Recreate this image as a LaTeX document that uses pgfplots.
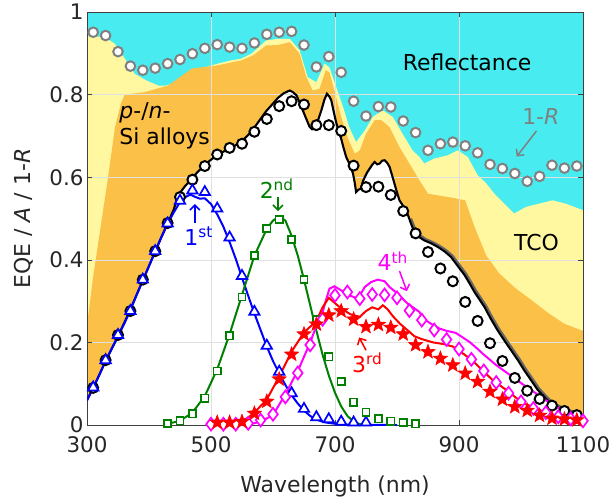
\documentclass[border=0pt]{standalone}
\usepackage{fontspec}
\setmainfont{DejaVu Sans}
\usepackage{pgfplots}
\pgfplotsset{compat=1.18}
\usetikzlibrary{arrows.meta}
\definecolor{cyanc}{RGB}{72,236,240}
\definecolor{yelc}{RGB}{255,248,160}
\definecolor{orac}{RGB}{251,192,72}
\definecolor{grayc}{RGB}{128,128,128}
\definecolor{greenc}{RGB}{0,128,0}
\definecolor{magc}{RGB}{255,0,255}
\definecolor{bluec}{RGB}{0,0,255}
\definecolor{redc}{RGB}{255,0,0}
\pgfdeclareplotmark{fstar}{%
  \pgfpathmoveto{\pgfpointpolar{90}{\pgfplotmarksize}}%
  \pgfpathlineto{\pgfpointpolar{126}{0.42\pgfplotmarksize}}%
  \pgfpathlineto{\pgfpointpolar{162}{\pgfplotmarksize}}%
  \pgfpathlineto{\pgfpointpolar{198}{0.42\pgfplotmarksize}}%
  \pgfpathlineto{\pgfpointpolar{234}{\pgfplotmarksize}}%
  \pgfpathlineto{\pgfpointpolar{270}{0.42\pgfplotmarksize}}%
  \pgfpathlineto{\pgfpointpolar{306}{\pgfplotmarksize}}%
  \pgfpathlineto{\pgfpointpolar{342}{0.42\pgfplotmarksize}}%
  \pgfpathlineto{\pgfpointpolar{18}{\pgfplotmarksize}}%
  \pgfpathlineto{\pgfpointpolar{54}{0.42\pgfplotmarksize}}%
  \pgfpathclose\pgfusepathqfillstroke}
\begin{document}
\begin{tikzpicture}
\begin{axis}[
  set layers,
  width=496bp, height=413bp, scale only axis,
  xmin=300, xmax=1100, ymin=0, ymax=1,
  xtick={300,500,700,900,1100},
  xticklabels={300,500,700,900,1100},
  ytick={0,0.2,0.4,0.6,0.8,1},
  yticklabels={0,0.2,0.4,0.6,0.8,1},
  grid=major, grid style={black!12, line width=0.5pt},
  tick align=inside, major tick length=5bp,
  axis line style={line width=0.8pt, black!75},
  tick style={black!75, line width=0.6pt},
  /pgf/number format/assume math mode=true,
  ticklabel style={font=\fontsize{21.5}{24}\selectfont, text=black!85},
  xticklabel style={yshift=-11bp, inner xsep=0pt, inner ysep=0pt},
  yticklabel style={inner ysep=1bp},
  label style={font=\fontsize{22}{26}\selectfont, text=black!85},
  xlabel={Wavelength (nm)},
  ylabel={EQE / \textit{A} / 1-\textit{R}},
  xlabel style={at={(axis description cs:0.5,-0.148)}, anchor=center, inner sep=0pt},
  ylabel style={at={(axis description cs:-0.128,0.5)}, anchor=center},
]
% ---------- filled areas ----------
\addplot[fill=cyanc, draw=none, on layer=axis background] coordinates {(300,1) (1100,1)} \closedcycle;
\addplot[fill=yelc, draw=none, on layer=axis background] coordinates {
(300,0.943) (329,0.939) (345,0.923) (361,0.887) (377,0.85) (396,0.834) (415,0.822) (427,0.822) (447,0.83) (469,0.859) (490,0.866) (511,0.875) (533,0.883) (549,0.887) (565,0.899) (589,0.931) (608,0.935) (627,0.935) (643,0.907) (656,0.842) (670,0.83) (683,0.875) (691,0.866) (702,0.818) (713,0.77) (723,0.721) (734,0.685) (748,0.713) (761,0.746) (777,0.762) (793,0.746) (809,0.705) (825,0.665) (836,0.649) (844,0.633) (860,0.645) (882,0.653) (898,0.665) (914,0.649) (930,0.605) (944,0.585) (957,0.56) (973,0.536) (989,0.512) (1008,0.528) (1029,0.536) (1051,0.544) (1072,0.536) (1100,0.52)} \closedcycle;
\addplot[fill=orac, draw=none, on layer=axis background] coordinates {
(300,0.24) (310,0.36) (322,0.48) (334,0.60) (345,0.72) (355,0.78) (361,0.80) (393,0.806) (431,0.822) (469,0.863) (511,0.871) (549,0.883) (568,0.895) (589,0.919) (608,0.92) (627,0.927) (643,0.899) (654,0.842) (664,0.81) (675,0.814) (685,0.859) (691,0.854) (699,0.81) (710,0.746) (721,0.693) (732,0.657) (740,0.665) (750,0.705) (764,0.738) (775,0.738) (788,0.721) (804,0.673) (820,0.633) (836,0.593) (850,0.56) (870,0.555) (890,0.55) (910,0.544) (925,0.48) (944,0.41) (965,0.367) (992,0.33) (1019,0.30) (1045,0.27) (1070,0.245) (1100,0.228)} \closedcycle;
\addplot[fill=white, draw=none, on layer=axis background] coordinates {
(300,0.06) (310,0.09) (320,0.122) (330,0.155) (340,0.185) (350,0.215) (360,0.247) (370,0.28) (380,0.315) (390,0.35) (400,0.385) (410,0.42) (420,0.455) (430,0.488) (440,0.522) (447,0.556) (458,0.578) (469,0.597) (478,0.612) (487,0.625) (498,0.64) (509,0.653) (518,0.66) (528,0.669) (537,0.675) (546,0.683) (555,0.695) (565,0.71) (577,0.735) (589,0.76) (598,0.775) (608,0.792) (617,0.803) (627,0.81) (632,0.806) (638,0.798) (643,0.78) (648,0.762) (654,0.74) (659,0.722) (663,0.716) (667,0.717) (672,0.735) (678,0.762) (683,0.788) (687,0.802) (691,0.795) (694,0.786) (697,0.765) (701,0.738) (705,0.715) (710,0.693) (714,0.67) (718,0.649) (724,0.63) (729,0.609) (732,0.585) (734,0.564) (738,0.57) (742,0.572) (745,0.59) (748,0.6) (752,0.612) (756,0.621) (760,0.63) (764,0.637) (768,0.631) (772,0.633) (776,0.64) (780,0.641) (784,0.635) (788,0.625) (792,0.605) (796,0.584) (800,0.563) (804,0.544) (810,0.53) (815,0.52) (822,0.49) (828,0.467) (836,0.455) (844,0.447) (855,0.44) (866,0.431) (877,0.42) (887,0.407) (898,0.385) (909,0.363) (917,0.343) (925,0.322) (933,0.304) (941,0.286) (951,0.258) (962,0.23) (973,0.205) (984,0.181) (995,0.157) (1005,0.133) (1016,0.109) (1027,0.085) (1038,0.067) (1048,0.052) (1059,0.043) (1070,0.036) (1081,0.03) (1091,0.024) (1100,0.02)} \closedcycle;
% ---------- total EQE line (with grey shadow) ----------
\addplot[black!60, line width=2.2pt, shift={(1.6bp,1.2bp)}] coordinates {
(820,0.497) (828,0.467) (836,0.455) (844,0.447) (855,0.44) (866,0.431) (877,0.42) (887,0.407) (898,0.385) (909,0.363) (917,0.343) (925,0.322) (933,0.304) (941,0.286) (951,0.258) (962,0.23) (973,0.205) (984,0.181) (995,0.157) (1005,0.133) (1016,0.109) (1027,0.085) (1038,0.067) (1048,0.052) (1059,0.043) (1070,0.036) (1081,0.03) (1091,0.024) (1100,0.02)};
\addplot[black, line width=2.1pt] coordinates {
(300,0.06) (310,0.09) (320,0.122) (330,0.155) (340,0.185) (350,0.215) (360,0.247) (370,0.28) (380,0.315) (390,0.35) (400,0.385) (410,0.42) (420,0.455) (430,0.488) (440,0.522) (447,0.556) (458,0.578) (469,0.597) (478,0.612) (487,0.625) (498,0.64) (509,0.653) (518,0.66) (528,0.669) (537,0.675) (546,0.683) (555,0.695) (565,0.71) (577,0.735) (589,0.76) (598,0.775) (608,0.792) (617,0.803) (627,0.81) (632,0.806) (638,0.798) (643,0.78) (648,0.762) (654,0.74) (659,0.722) (663,0.716) (667,0.717) (672,0.735) (678,0.762) (683,0.788) (687,0.802) (691,0.795) (694,0.786) (697,0.765) (701,0.738) (705,0.715) (710,0.693) (714,0.67) (718,0.649) (724,0.63) (729,0.609) (732,0.585) (734,0.564) (738,0.57) (742,0.572) (745,0.59) (748,0.6) (752,0.612) (756,0.621) (760,0.63) (764,0.637) (768,0.631) (772,0.633) (776,0.64) (780,0.641) (784,0.635) (788,0.625) (792,0.605) (796,0.584) (800,0.563) (804,0.544) (810,0.53) (815,0.52) (822,0.49) (828,0.467) (836,0.455) (844,0.447) (855,0.44) (866,0.431) (877,0.42) (887,0.407) (898,0.385) (909,0.363) (917,0.343) (925,0.322) (933,0.304) (941,0.286) (951,0.258) (962,0.23) (973,0.205) (984,0.181) (995,0.157) (1005,0.133) (1016,0.109) (1027,0.085) (1038,0.067) (1048,0.052) (1059,0.043) (1070,0.036) (1081,0.03) (1091,0.024) (1100,0.02)};
% ---------- black circles (A) ----------
\addplot[only marks, mark=*, mark size=5bp, mark options={fill=white, draw=black, line width=2pt}] coordinates {
(310,0.09) (330,0.157) (350,0.218) (370,0.276) (390,0.352) (410,0.421) (430,0.489) (450,0.552) (470,0.594) (490,0.627) (510,0.655) (530,0.671) (550,0.681) (570,0.71) (590,0.741) (610,0.772) (630,0.784) (650,0.776) (670,0.726) (690,0.726) (710,0.712) (730,0.628) (750,0.576) (770,0.577) (790,0.557) (810,0.518) (830,0.464) (850,0.419) (870,0.379) (890,0.348) (910,0.298) (930,0.252) (950,0.198) (970,0.155) (990,0.114) (1010,0.083) (1030,0.063) (1050,0.047) (1070,0.034) (1090,0.024)};
% ---------- 1-R ----------
\addplot[only marks, mark=*, mark size=4.8bp, mark options={fill=white, draw=grayc, line width=2pt}] coordinates {
(310,0.951) (330,0.943) (350,0.904) (370,0.869) (390,0.859) (410,0.864) (430,0.875) (450,0.885) (470,0.899) (490,0.912) (510,0.921) (530,0.915) (550,0.912) (570,0.925) (590,0.946) (610,0.951) (630,0.953) (650,0.92) (670,0.867) (690,0.892) (710,0.854) (730,0.784) (750,0.748) (770,0.771) (790,0.770) (810,0.736) (830,0.708) (850,0.665) (870,0.681) (890,0.685) (910,0.676) (930,0.659) (950,0.631) (970,0.621) (990,0.609) (1010,0.590) (1030,0.602) (1050,0.629) (1070,0.622) (1090,0.627)};
% ---------- 1st ----------
\addplot[bluec, line width=2pt] coordinates {
(300,0.06) (310,0.09) (320,0.122) (330,0.155) (340,0.185) (350,0.215) (360,0.245) (370,0.278) (380,0.315) (390,0.35) (400,0.385) (410,0.42) (420,0.455) (430,0.487) (440,0.515) (450,0.54) (460,0.553) (467,0.558) (475,0.552) (482,0.548) (490,0.549) (500,0.535) (510,0.51) (520,0.48) (530,0.443) (540,0.402) (550,0.357) (560,0.313) (570,0.27) (580,0.23) (590,0.19) (600,0.155) (610,0.125) (620,0.097) (630,0.072) (640,0.052) (650,0.035) (660,0.022) (670,0.013) (680,0.008) (690,0.005) (700,0.003) (720,0.001) (800,0)};
\addplot[only marks, mark=triangle*, mark size=6bp, mark options={fill=white, draw=bluec, line width=1.7pt}] coordinates {
(310,0.091) (330,0.157) (350,0.218) (370,0.276) (390,0.352) (410,0.421) (430,0.488) (450,0.543) (470,0.568) (490,0.564) (510,0.524) (530,0.454) (550,0.361) (570,0.274) (590,0.192) (610,0.129) (630,0.077) (650,0.039) (670,0.019) (690,0.014) (710,0.008) (730,0.006) (750,0.006)};
% ---------- 2nd ----------
\addplot[greenc, line width=2pt] coordinates {
(430,0.003) (450,0.01) (470,0.03) (490,0.07) (510,0.135) (530,0.22) (550,0.315) (570,0.41) (590,0.475) (600,0.495) (610,0.505) (620,0.495) (630,0.458) (640,0.41) (650,0.352) (660,0.29) (670,0.228) (680,0.17) (690,0.12) (700,0.078) (710,0.045) (720,0.022) (730,0.008) (740,0.002) (750,0)};
\addplot[only marks, mark=square*, mark size=3.6bp, mark options={fill=white, draw=greenc, line width=1.6pt}] coordinates {
(430,0.004) (450,0.010) (470,0.027) (490,0.065) (510,0.131) (530,0.216) (550,0.310) (570,0.410) (590,0.476) (610,0.498) (630,0.449) (650,0.352) (670,0.255) (690,0.165) (710,0.105) (730,0.055) (750,0.031) (770,0.015) (790,0.009) (810,0.006) (830,0.003)};
% ---------- 4th ----------
\addplot[magc, line width=2pt] coordinates {
(500,0) (560,0.001) (580,0.008) (600,0.024) (621,0.077) (643,0.141) (660,0.2) (670,0.24) (678,0.262) (685,0.3) (691,0.33) (699,0.336) (710,0.326) (723,0.314) (737,0.306) (748,0.334) (758,0.346) (769,0.352) (780,0.348) (788,0.334) (801,0.318) (817,0.294) (836,0.274) (842,0.258) (855,0.245) (868,0.234) (880,0.228) (895,0.223) (906,0.212) (917,0.201) (928,0.187) (938,0.173) (949,0.159) (960,0.145) (973,0.131) (986,0.117) (997,0.105) (1008,0.093) (1022,0.079) (1035,0.065) (1048,0.052) (1062,0.04) (1072,0.032) (1083,0.024) (1092,0.017) (1100,0.012)};
\addplot[only marks, mark=diamond*, mark size=6.4bp, mark options={fill=white, draw=magc, line width=1.7pt}] coordinates {
(500,0.002) (520,0.002) (540,0.002) (560,0.004) (580,0.012) (600,0.026) (620,0.068) (640,0.126) (660,0.194) (680,0.256) (700,0.314) (720,0.322) (740,0.306) (760,0.316) (780,0.315) (800,0.308) (820,0.277) (840,0.254) (860,0.23) (880,0.207) (900,0.184) (920,0.159) (940,0.131) (960,0.103) (980,0.077) (1000,0.056) (1020,0.04) (1040,0.03) (1060,0.02) (1080,0.015) (1100,0.01)};
% ---------- 3rd ----------
\addplot[redc, line width=2pt] coordinates {
(500,0) (530,0.003) (546,0.008) (560,0.018) (570,0.03) (590,0.062) (610,0.117) (630,0.178) (650,0.224) (670,0.252) (680,0.285) (690,0.308) (700,0.295) (710,0.282) (725,0.268) (740,0.262) (750,0.276) (760,0.285) (770,0.28) (777,0.29) (785,0.28) (793,0.264) (805,0.245) (815,0.232) (828,0.215) (840,0.208) (858,0.2) (875,0.196) (890,0.19) (900,0.18) (911,0.168) (922,0.156) (932,0.141) (943,0.125) (954,0.109) (965,0.097) (976,0.085) (987,0.072) (997,0.06) (1008,0.05) (1019,0.044) (1032,0.035) (1046,0.028) (1060,0.021) (1072,0.016) (1085,0.014) (1100,0.012)};
\addplot[only marks, mark=fstar, mark size=7.5bp, mark options={fill=redc, draw=redc, line width=0.6pt}] coordinates {
(510,0.006) (530,0.006) (550,0.008) (570,0.028) (590,0.057) (610,0.111) (630,0.171) (650,0.22) (670,0.244) (690,0.266) (710,0.276) (730,0.256) (750,0.238) (770,0.243) (790,0.236) (810,0.22) (830,0.194) (850,0.177) (870,0.161) (890,0.145) (910,0.125) (930,0.105) (950,0.081) (970,0.062) (990,0.044) (1010,0.035) (1030,0.023) (1050,0.016) (1070,0.014) (1090,0.012)};
% ---------- annotations ----------
\node[anchor=west, font=\fontsize{22}{26}\selectfont, inner sep=0pt] at (axis cs:352,0.755) {\textit{p}-/\textit{n}-};
\node[anchor=west, font=\fontsize{22}{26}\selectfont, inner sep=0pt] at (axis cs:352,0.694) {Si alloys};
\node[font=\fontsize{22}{26}\selectfont, inner sep=0pt] at (axis cs:913,0.878) {Reflectance};
\node[font=\fontsize{22}{26}\selectfont, inner sep=0pt] at (axis cs:1025,0.443) {TCO};
\node[font=\fontsize{22}{26}\selectfont, text=grayc, inner sep=0pt] at (axis cs:1032,0.746) {1-\textit{R}};
\draw[grayc, line width=1.5pt, -{Straight Barb[length=5bp]}] (axis cs:1025,0.712) -- (axis cs:993,0.650);
\node[font=\fontsize{22}{26}\selectfont, text=bluec, inner sep=0pt] at (axis cs:480,0.457) {1\textsuperscript{st}};
\draw[bluec, line width=1.5pt, -{Straight Barb[length=5bp]}] (axis cs:474,0.488) -- (axis cs:474,0.535);
\node[font=\fontsize{22}{26}\selectfont, text=greenc, inner sep=0pt] at (axis cs:606,0.572) {2\textsuperscript{nd}};
\draw[greenc, line width=1.5pt, -{Straight Barb[length=5bp]}] (axis cs:608,0.552) -- (axis cs:608,0.518);
\node[font=\fontsize{22}{26}\selectfont, text=redc, inner sep=0pt] at (axis cs:752,0.151) {3\textsuperscript{rd}};
\draw[redc, line width=1.5pt, -{Straight Barb[length=5bp]}] (axis cs:750,0.181) -- (axis cs:739,0.212);
\node[font=\fontsize{22}{26}\selectfont, text=magc, inner sep=0pt] at (axis cs:793,0.397) {4\textsuperscript{th}};
\draw[magc, line width=1.5pt, -{Straight Barb[length=5bp]}] (axis cs:804,0.373) -- (axis cs:816,0.324);
\end{axis}
% overall frame of the picture
\path ([shift={(-87bp,-70bp)}]current axis.south west) ([shift={(28bp,12bp)}]current axis.north east);
\end{tikzpicture}
\end{document}
